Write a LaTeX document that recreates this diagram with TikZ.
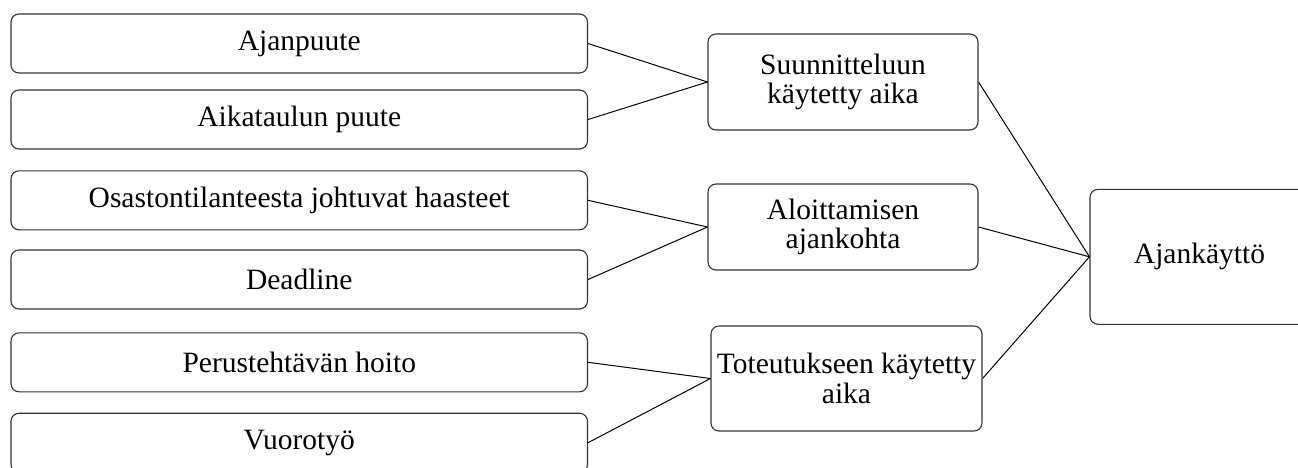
\documentclass[tikz,border=0pt]{standalone}
\usepackage{fontspec}
\setmainfont{Liberation Serif}
\begin{document}
\begin{tikzpicture}[x=1pt,y=-1pt,
  box/.style={draw=black!80, line width=1.1pt, rounded corners=8pt,
    align=center, inner sep=0pt, font=\fontsize{29.5}{29.5}\selectfont},
  leftbox/.style={box, minimum width=576.5pt, minimum height=59pt},
  link/.style={draw=black, line width=1pt}]
\useasboundingbox (0,0) rectangle (1298,467);
% causes
\node[leftbox] (a1) at (299.25,43.5)  {Ajanpuute};
\node[leftbox] (a2) at (299.25,119.5) {Aikataulun puute};
\node[leftbox] (a3) at (299.25,200.3) {Osastontilanteesta johtuvat haasteet};
\node[leftbox] (a4) at (299.25,279.5) {Deadline};
\node[leftbox] (a5) at (299.25,362.3) {Perustehtävän hoito};
\node[leftbox] (a6) at (299.25,442.7) {Vuorotyö};
% groups
\node[box, minimum width=270pt, minimum height=96pt]  (m1) at (843,82)    {Suunnitteluun\\käytetty aika};
\node[box, minimum width=270pt, minimum height=86pt]  (m2) at (843,227)   {Aloittamisen\\ajankohta};
\node[box, minimum width=271pt, minimum height=105pt] (m3) at (846.5,378.5) {Toteutukseen käytetty\\aika};
% theme
\node[box, minimum width=219pt, minimum height=135pt] (r) at (1199.5,256.8) {Ajankäyttö};
% links
\draw[link] (a1.east) -- (m1.west);
\draw[link] (a2.east) -- (m1.west);
\draw[link] (a3.east) -- (m2.west);
\draw[link] (a4.east) -- (m2.west);
\draw[link] (a5.east) -- (m3.west);
\draw[link] (a6.east) -- (m3.west);
\draw[link] (m1.east) -- (r.west);
\draw[link] (m2.east) -- (r.west);
\draw[link] (m3.east) -- (r.west);
\end{tikzpicture}
\end{document}
